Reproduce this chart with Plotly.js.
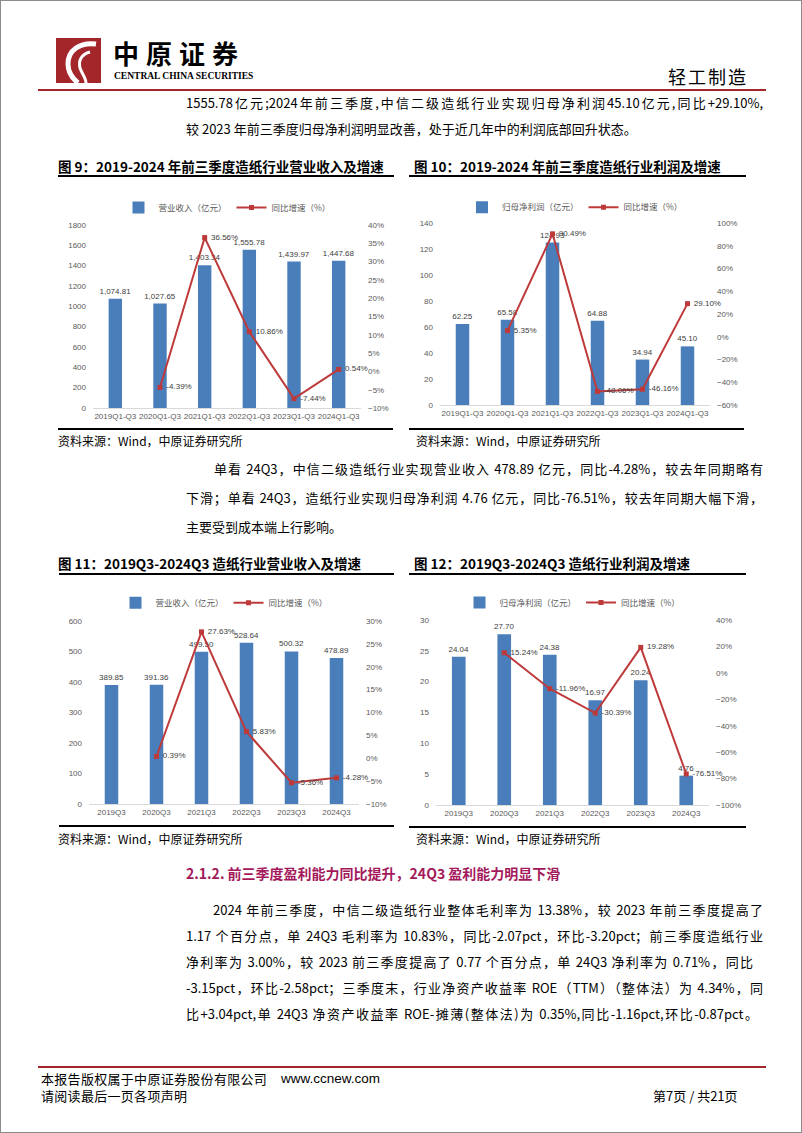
<!DOCTYPE html>
<html>
<head>
<meta charset="utf-8">
<script src="https://cdn.plot.ly/plotly-3.0.1.min.js"></script>
<style>
body { margin: 0; background: #fff; }
#page { position: relative; width: 802px; height: 1133px; box-sizing: border-box; border: 1px solid #8c8c8c; overflow: hidden;
  font-family: "Noto Sans CJK SC", "Liberation Sans", sans-serif; color: #000; }
.abs { position: absolute; white-space: nowrap; }
.txt { position: absolute; left: 185px; width: 577px; height: 26px; line-height: 26px; font-size: 13px; }
.full { text-align: justify; text-align-last: justify; }
.ttl { position: absolute; height: 20px; line-height: 20px; font-size: 13.5px; font-weight: 700; white-space: nowrap; }
.rule { position: absolute; height: 2px; background: #000; }
.src { position: absolute; font-size: 12px; line-height: 18px; height: 18px; white-space: nowrap; }
.chart { position: absolute; }
</style>
</head>
<body>
<div id="page">
  <!-- header -->
  <svg class="abs" style="left:55px;top:37px" width="45" height="45" viewBox="0 0 45 45">
    <rect width="45" height="45" fill="#A3262B"/>
    <path d="M40 6 C24 4 12 12 12 26 C12 34 16 40 22 45" stroke="#fff" stroke-width="5" fill="none"/>
    <path d="M34 14 C26 16 22 22 24 30 C26 36 30 40 30 45" stroke="#fff" stroke-width="3" fill="none"/>
  </svg>
  <div class="abs" style="left:112px;top:39px;font-size:26px;font-weight:700;letter-spacing:7px;line-height:26px">中原证券</div>
  <div class="abs" style="left:113px;top:70px;font-family:'Liberation Serif',serif;font-size:9.5px;font-weight:700;line-height:11px">CENTRAL CHINA SECURITIES</div>
  <div class="abs" style="left:667px;top:63px;font-size:18px;line-height:24px;letter-spacing:2px">轻工制造</div>
  <div class="abs" style="left:37px;top:88px;width:728px;height:2px;background:#A3262B"></div>

  <div class="txt full" style="top:89px">1555.78亿元;2024年前三季度,中信二级造纸行业实现归母净利润45.10亿元,同比+29.10%,</div>
  <div class="txt" style="top:115px">较 2023 年前三季度归母净利润明显改善，处于近几年中的利润底部回升状态。</div>

  <!-- figures 9 and 10 -->
  <div class="ttl" style="left:57px;top:155px">图 9：2019-2024 年前三季度造纸行业营业收入及增速</div>
  <div class="rule" style="left:57px;top:174px;width:336px"></div>
  <div class="ttl" style="left:413px;top:155px">图 10：2019-2024 年前三季度造纸行业利润及增速</div>
  <div class="rule" style="left:408px;top:174px;width:337px"></div>
  <div id="fig9" class="chart" style="left:50px;top:180px"></div>
  <div id="fig10" class="chart" style="left:405px;top:180px"></div>
  <div class="rule" style="left:57px;top:427px;width:335px"></div>
  <div class="rule" style="left:408px;top:427px;width:335px"></div>
  <div class="src" style="left:57px;top:431px">资料来源：Wind，中原证券研究所</div>
  <div class="src" style="left:415px;top:431px">资料来源：Wind，中原证券研究所</div>

  <div class="txt" style="top:455px;left:213px;width:549px;text-align:justify;text-align-last:justify">单看 24Q3，中信二级造纸行业实现营业收入 478.89 亿元，同比-4.28%，较去年同期略有</div>
  <div class="txt full" style="top:484px">下滑；单看 24Q3，造纸行业实现归母净利润 4.76 亿元，同比-76.51%，较去年同期大幅下滑，</div>
  <div class="txt" style="top:513px">主要受到成本端上行影响。</div>

  <!-- figures 11 and 12 -->
  <div class="ttl" style="left:57px;top:552px">图 11：2019Q3-2024Q3 造纸行业营业收入及增速</div>
  <div class="rule" style="left:58px;top:572px;width:335px"></div>
  <div class="ttl" style="left:413px;top:552px">图 12：2019Q3-2024Q3 造纸行业利润及增速</div>
  <div class="rule" style="left:408px;top:572px;width:337px"></div>
  <div id="fig11" class="chart" style="left:50px;top:575px"></div>
  <div id="fig12" class="chart" style="left:405px;top:575px"></div>
  <div class="rule" style="left:58px;top:824px;width:335px"></div>
  <div class="rule" style="left:408px;top:825px;width:337px"></div>
  <div class="src" style="left:57px;top:829px">资料来源：Wind，中原证券研究所</div>
  <div class="src" style="left:415px;top:829px">资料来源：Wind，中原证券研究所</div>

  <div class="txt" style="top:859px;color:#A3195B;font-weight:700;font-size:14px">2.1.2. 前三季度盈利能力同比提升，24Q3 盈利能力明显下滑</div>
  <div class="txt" style="top:896px;left:212px;width:550px;text-align:justify;text-align-last:justify">2024 年前三季度，中信二级造纸行业整体毛利率为 13.38%，较 2023 年前三季度提高了</div>
  <div class="txt full" style="top:922px">1.17 个百分点，单 24Q3 毛利率为 10.83%，同比-2.07pct，环比-3.20pct；前三季度造纸行业</div>
  <div class="txt full" style="top:948px;width:567px">净利率为 3.00%，较 2023 前三季度提高了 0.77 个百分点，单 24Q3 净利率为 0.71%，同比</div>
  <div class="txt full" style="top:974px">-3.15pct，环比-2.58pct；三季度末，行业净资产收益率 ROE（TTM）（整体法）为 4.34%，同</div>
  <div class="txt full" style="top:1000px;width:572px">比+3.04pct,单 24Q3 净资产收益率 ROE-摊薄(整体法)为 0.35%,同比-1.16pct,环比-0.87pct。</div>

  <!-- footer -->
  <div class="abs" style="left:37px;top:1065px;width:728px;height:2px;background:#A3262B"></div>
  <div class="abs" style="left:40px;top:1069px;font-size:13px;line-height:18px;letter-spacing:0.3px">本报告版权属于中原证券股份有限公司</div>
  <div class="abs" style="left:280px;top:1069px;font-family:'Liberation Sans',sans-serif;font-size:13.5px;line-height:18px">www.ccnew.com</div>
  <div class="abs" style="left:40px;top:1086px;font-size:13px;line-height:18px;letter-spacing:0.3px">请阅读最后一页各项声明</div>
  <div class="abs" style="left:652px;top:1086px;font-size:13px;line-height:18px">第7页 / 共21页</div>
</div>

<script>
// chart data
const catsYtd = ["2019Q1-Q3", "2020Q1-Q3", "2021Q1-Q3", "2022Q1-Q3", "2023Q1-Q3", "2024Q1-Q3"];
const revenueYtd = [1074.81, 1027.65, 1403.34, 1555.78, 1439.97, 1447.68];
const revenueYtdYoy = [null, -4.39, 36.56, 10.86, -7.44, 0.54];
const profitYtd = [62.25, 65.58, 124.93, 64.88, 34.94, 45.10];
const profitYtdYoy = [null, 5.35, 90.49, -48.06, -46.16, 29.10];

const catsQ3 = ["2019Q3", "2020Q3", "2021Q3", "2022Q3", "2023Q3", "2024Q3"];
const revenueQ3 = [389.85, 391.36, 499.50, 528.64, 500.32, 478.89];
const revenueQ3Yoy = [null, 0.39, 27.63, 5.83, -5.36, -4.28];
const profitQ3 = [24.04, 27.70, 24.38, 16.97, 20.24, 4.76];
const profitQ3Yoy = [null, 15.24, -11.96, -30.39, 19.28, -76.51];

const BLUE = "#4A7EBB";
const RED = "#BE3A3A";
const FONT = '"Liberation Sans", "Noto Sans CJK SC", sans-serif';

function drawChart(id, cats, bars, yoy, barName, o) {
  const barTrace = {
    type: "bar", x: cats, y: bars, name: barName,
    marker: { color: BLUE }, width: 0.3,
    texttemplate: o.barFmt, textposition: "outside", cliponaxis: false,
    constraintext: "none",
    textfont: { size: 8, color: "#404040" },
    hoverinfo: "skip",
  };
  const lineTrace = {
    type: "scatter", mode: "lines+markers+text", x: cats, y: yoy, yaxis: "y2",
    name: "同比增速（%）",
    line: { color: RED, width: 2 },
    marker: { symbol: "square", size: 5, color: RED },
    text: yoy.map((v) => (v == null ? "" : " " + v.toFixed(2) + "%")),
    textposition: "middle right", cliponaxis: false,
    textfont: { size: 8, color: "#404040" },
    hoverinfo: "skip",
  };
  const layout = {
    width: o.w, height: o.h, margin: o.m,
    paper_bgcolor: "rgba(0,0,0,0)", plot_bgcolor: "rgba(0,0,0,0)",
    font: { family: FONT, size: 8, color: "#595959" },
    showlegend: true,
    legend: {
      orientation: "h", x: 0.5, xanchor: "center", y: o.legY, yanchor: "middle",
      font: { family: '"Noto Sans CJK SC", sans-serif', size: 8.5, color: "#595959" },
      bgcolor: "rgba(0,0,0,0)",
    },
    xaxis: {
      type: "category", range: [-0.5, 5.5], showline: true, linecolor: "#D9D9D9",
      ticks: "", showgrid: false, tickfont: { size: 8 },
    },
    yaxis: {
      range: o.yr, dtick: o.dt, showgrid: false, zeroline: false, ticks: "",
      ticklabelstandoff: 6, fixedrange: true,
    },
    yaxis2: {
      overlaying: "y", side: "right", range: o.y2r, dtick: o.dt2, ticksuffix: "%",
      showgrid: false, zeroline: false, ticks: "", ticklabelstandoff: 6,
    },
    bargap: 0.7,
  };
  Plotly.newPlot(id, [barTrace, lineTrace], layout, { staticPlot: true, displayModeBar: false });
}

drawChart("fig9", catsYtd, revenueYtd, revenueYtdYoy, "营业收入（亿元）", {
  w: 345, h: 245, m: { l: 42, r: 35, t: 30, b: 18 }, legY: 1.096,
  yr: [0, 1800], dt: 200, y2r: [-10, 40], dt2: 5, barFmt: "%{y:,.2f}",
});
drawChart("fig10", catsYtd, profitYtd, profitYtdYoy, "归母净利润（亿元）", {
  w: 345, h: 245, m: { l: 34, r: 41, t: 29, b: 21 }, legY: 1.087,
  yr: [0, 140], dt: 20, y2r: [-60, 100], dt2: 20, barFmt: "%{y:.2f}",
});
drawChart("fig11", catsQ3, revenueQ3, revenueQ3Yoy, "营业收入（亿元）", {
  w: 345, h: 250, m: { l: 38, r: 37, t: 33, b: 22 }, legY: 1.10,
  yr: [0, 600], dt: 100, y2r: [-10, 30], dt2: 5, barFmt: "%{y:.2f}",
});
drawChart("fig12", catsQ3, profitQ3, profitQ3Yoy, "归母净利润（亿元）", {
  w: 345, h: 250, m: { l: 30, r: 42, t: 28, b: 21 }, legY: 1.095,
  yr: [0, 30], dt: 5, y2r: [-100, 40], dt2: 20, barFmt: "%{y:.2f}",
});
</script>
</body>
</html>
